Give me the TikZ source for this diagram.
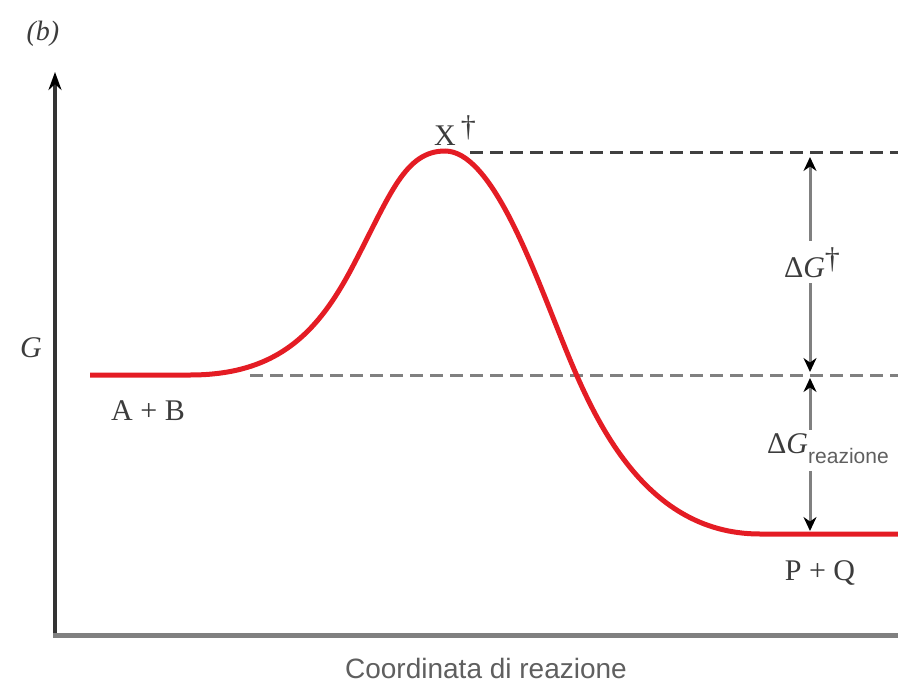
\documentclass[tikz,border=0pt]{standalone}
\usepackage{fontspec}
\setmainfont{Liberation Serif}
\setsansfont{Liberation Sans}
\usetikzlibrary{arrows.meta}
\definecolor{curvered}{RGB}{228,28,36}
\definecolor{labelgray}{RGB}{60,60,60}
\definecolor{softgray}{RGB}{95,95,95}
\tikzset{
  lbl/.style={text=labelgray,font=\fontsize{30}{32}\selectfont,inner sep=0pt},
  gap/.style={draw=gray,line width=3pt,shorten >=3pt,
    -{Stealth[length=14pt,width=13pt,color=black]}},
  level/.style={dash pattern=on 13pt off 7pt,line width=3pt},
}
\begin{document}
\begin{tikzpicture}[x=1pt,y=-1pt]
\useasboundingbox (0,0) rectangle (898,683);
% axes
\coordinate (origin) at (55,635);\coordinate (ytip) at (55,72);\coordinate (xend) at (898,635);
\draw[line width=4pt,black!80,-{Stealth[length=18pt,width=13pt,color=black]}] (origin)--(ytip);
\draw[line width=5pt,gray] ([xshift=-2pt]origin)--(xend);
% levels
\coordinate (tsL) at (470,152);\coordinate (tsR) at (898,152);
\coordinate (reL) at (250,375);\coordinate (reR) at (898,375);
\draw[level,black!75] (tsL)--(tsR);
\draw[level,gray] (reL)--(reR);
% reaction path
\draw[curvered,line width=5pt] (90,375)--(190,375)
  .. controls (280,375) and (320,330) .. (355,262)
  .. controls (390,195) and (405,151) .. (445,151)
  .. controls (490,151) and (530,260) .. (560,335)
  .. controls (590,410) and (640,534) .. (760,534)
  --(898,534);
% labels
\node[lbl,font=\itshape\fontsize{28}{30}\selectfont,anchor=base] (panel) at (43,40) {(b)};
\node[lbl,font=\itshape\fontsize{30}{32}\selectfont,anchor=base] (Gaxis) at (31,357) {G};
\node[lbl,anchor=base] (react) at (148,420) {A + B};
\node[lbl,anchor=base] (prod) at (820,580) {P + Q};
\node[lbl,anchor=base west] (ts) at (434,145) {X\,\raisebox{.3em}{†}};
\node[lbl,anchor=base,inner sep=6pt] (dGact) at (812,277) {Δ\textit{G}\raisebox{.3em}{†}};
\node[lbl,anchor=base west,inner ysep=3pt] (dGr) at (767,453)
  {Δ\textit{G}\raisebox{-.35em}{\color{softgray}\sffamily\fontsize{21}{22}\selectfont reazione}};
\node[lbl,font=\sffamily\fontsize{28}{30}\selectfont,text=softgray,anchor=base] (xlab) at (486,678)
  {Coordinata di reazione};
% free energy gaps
\coordinate (gTop) at (810,152);\coordinate (gMid) at (810,375);\coordinate (gBot) at (810,534);
\draw[gap,shorten >=5pt] (dGact.north -| gTop)--(gTop);
\draw[gap] (dGact.south -| gTop)--(gMid);
\draw[gap] (dGr.north -| gTop)--(gMid);
\draw[gap] ([yshift=-4pt]dGr.south -| gTop)--(gBot);
\end{tikzpicture}
\end{document}
